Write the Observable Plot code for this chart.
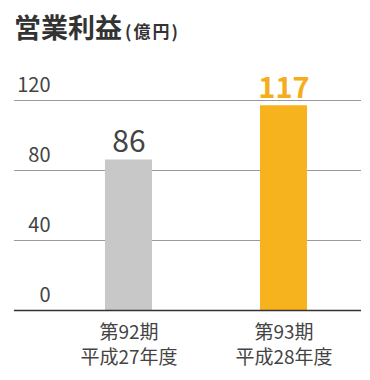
<!DOCTYPE html>
<html><head><meta charset="utf-8">
<script src="https://cdn.jsdelivr.net/npm/d3@7"></script>
<script src="https://cdn.jsdelivr.net/npm/@observablehq/plot@0.6"></script>
<style>
body{margin:0;background:#fff;font-family:"Noto Sans CJK JP","Noto Sans",sans-serif;}
#title{height:55px;box-sizing:border-box;padding:10px 0 0 14px;color:#333;white-space:nowrap;}
#title .main{font-size:27px;font-weight:bold;line-height:34px;}
#title .unit{font-size:17px;font-weight:bold;letter-spacing:2px;margin-left:3px;}
#chart svg{display:block;}
</style></head><body>
<div id="title"><span class="main">営業利益</span><span class="unit">(億円)</span></div>
<div id="chart"></div>
<script>
const periods = ["第92期", "第93期"];
const fiscalYears = ["平成27年度", "平成28年度"];
const profits = [86, 117];
const barColors = ["#c8c8c8", "#f7b31e"];
const yTicks = [0, 40, 80, 120];
const gridValues = [40, 80, 120];

const data = periods.map((p, i) => ({period: p, year: fiscalYears[i], value: profits[i], color: barColors[i]}));

const chart = Plot.plot({
  width: 370,
  height: 325,
  marginLeft: 14,
  marginRight: 9,
  marginTop: 45,
  marginBottom: 70,
  style: {fontFamily: '"Noto Sans CJK JP","Noto Sans",sans-serif', background: "#fff"},
  x: {domain: periods, range: [51, 361], paddingInner: 0.697, paddingOuter: 0.348, axis: null},
  y: {domain: [0, 120], axis: null},
  marks: [
    Plot.ruleY(gridValues, {stroke: "#9a9a9a", strokeWidth: 1}),
    Plot.barY(data, {x: "period", y: "value", fill: "color"}),
    Plot.ruleY([0], {stroke: "#333", strokeWidth: 1.5}),
    Plot.text(yTicks, {y: d => d, text: d => String(d), frameAnchor: "left", dx: 36, dy: -15, textAnchor: "end", fontSize: 20, fill: "#444"}),
    Plot.text(data.filter((d, i) => i === 0), {x: "period", y: "value", text: d => String(d.value), lineAnchor: "bottom", dy: -8, fontSize: 30, fill: "#444"}),
    Plot.text(data.filter((d, i) => i === 1), {x: "period", y: "value", text: d => String(d.value), lineAnchor: "bottom", dy: -8, fontSize: 29, fontWeight: "bold", fill: "#f5ad1b"}),
    Plot.text(data, {x: "period", y: 0, text: "period", lineAnchor: "middle", dy: 22, fontSize: 19, fill: "#444"}),
    Plot.text(data, {x: "period", y: 0, text: "year", lineAnchor: "middle", dy: 47, fontSize: 19, fill: "#444"})
  ]
});
document.getElementById("chart").appendChild(chart);
</script>
</body></html>
